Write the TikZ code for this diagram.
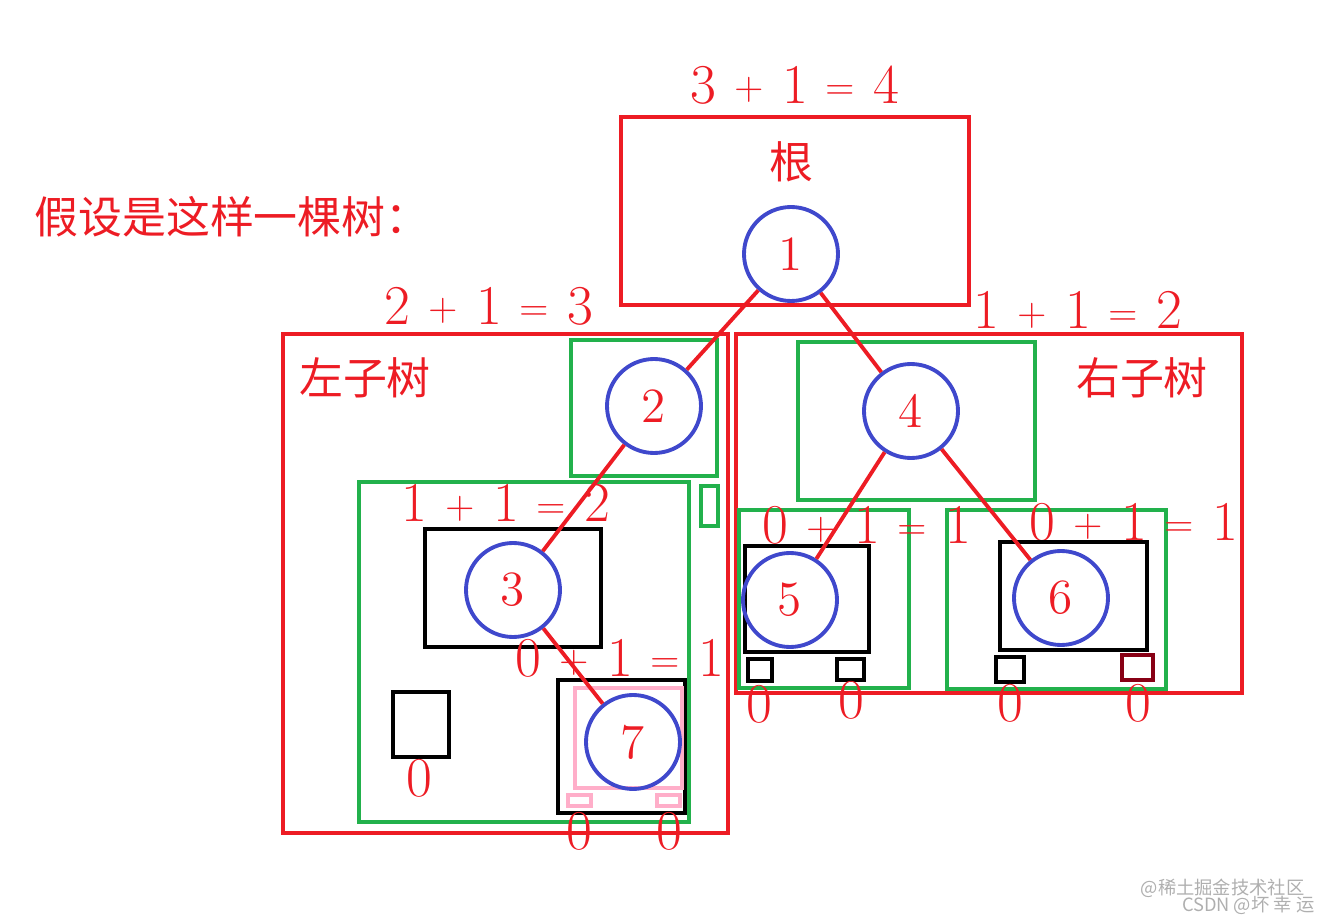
\documentclass[tikz,border=0pt]{standalone}
\usepackage{fontspec}
\usepackage{xcolor}
\newfontfamily\cjk{Noto Sans CJK SC}
\definecolor{pred}{RGB}{237,28,36}
\definecolor{pgreen}{RGB}{34,177,76}
\definecolor{pblue}{RGB}{63,72,204}
\definecolor{ppink}{RGB}{255,174,201}
\definecolor{pdark}{RGB}{136,0,21}
\definecolor{wmark}{RGB}{175,175,175}
\newcommand{\opsym}[1]{\makebox[13pt]{\fontsize{11}{11}\selectfont\raisebox{1pt}{#1}}}
\newcommand{\sumlbl}[3]{\makebox[13pt]{#1}\opsym{+}\makebox[13pt]{#2}\opsym{=}\makebox[13pt]{#3}}

\begin{document}
\begin{tikzpicture}[
  redbox/.style={draw=pred, line width=1.2pt},
  greenbox/.style={draw=pgreen, line width=1.2pt},
  blackbox/.style={draw=black, line width=1.2pt},
  pinkbox/.style={draw=ppink, line width=1.1pt},
  vert/.style={circle, draw=pblue, line width=1.1pt, minimum size=0.94cm, inner sep=0pt, text=pred, font=\fontsize{14}{14}\selectfont},
  link/.style={draw=pred, line width=1.1pt},
  lbl/.style={text=pred, inner sep=0pt, font=\fontsize{16}{16}\selectfont},
  cjklbl/.style={text=pred, inner sep=0pt, font=\cjk\fontsize{12.5}{12.5}\selectfont}]
\useasboundingbox (0,0) rectangle (13.3,-9.24);
% root part
\draw [redbox] (6.21,-1.17) rectangle (9.69,-3.05);
\node [lbl] (s1) at (7.95,-0.85) {\sumlbl{3}{1}{4}};
\node [cjklbl] (root) at (7.91,-1.62) {根};
\node [cjklbl] (title) at (2.32,-2.17) {假设是这样一棵树：};
% left subtree
\draw [redbox] (2.83,-3.34) rectangle (7.28,-8.33);
\node [cjklbl] (left) at (3.65,-3.78) {左子树};
\node [lbl] (s2) at (4.89,-3.06) {\sumlbl{2}{1}{3}};
\draw [greenbox] (5.71,-3.40) rectangle (7.17,-4.76);
\draw [greenbox] (7.01,-4.86) rectangle (7.18,-5.26);
\draw [greenbox] (3.59,-4.82) rectangle (6.89,-8.22);
\node [lbl] (s3) at (5.06,-5.03) {\sumlbl{1}{1}{2}};
\draw [blackbox] (4.25,-5.29) rectangle (6.01,-6.47);
\node [lbl] (s7) at (6.20,-6.58) {\sumlbl{0}{1}{1}};
\draw [blackbox] (3.93,-6.92) rectangle (4.49,-7.57);
\node [lbl] (z1) at (4.19,-7.78) {0};
\draw [blackbox] (5.58,-6.80) rectangle (6.85,-8.13);
\draw [pinkbox] (5.75,-6.88) rectangle (6.82,-7.88);
\draw [pinkbox] (5.68,-7.95) rectangle (5.91,-8.06);
\draw [pinkbox] (6.57,-7.95) rectangle (6.80,-8.06);
\node [lbl] (z2) at (5.79,-8.31) {0};
\node [lbl] (z3) at (6.69,-8.31) {0};
% right subtree
\draw [redbox] (7.36,-3.34) rectangle (12.42,-6.93);
\node [cjklbl] (right) at (11.42,-3.78) {右子树};
\node [lbl] (s4) at (10.78,-3.10) {\sumlbl{1}{1}{2}};
\draw [greenbox] (7.98,-3.42) rectangle (10.35,-5.00);
\draw [greenbox] (7.39,-5.10) rectangle (9.09,-6.88);
\draw [greenbox] (9.47,-5.10) rectangle (11.66,-6.89);
\node [lbl] (s5) at (8.67,-5.25) {\sumlbl{0}{1}{1}};
\node [lbl] (s6) at (11.34,-5.22) {\sumlbl{0}{1}{1}};
\draw [blackbox] (7.45,-5.46) rectangle (8.69,-6.52);
\draw [blackbox] (7.48,-6.59) rectangle (7.72,-6.81);
\draw [blackbox] (8.37,-6.59) rectangle (8.64,-6.80);
\draw [blackbox] (10.00,-5.42) rectangle (11.47,-6.50);
\draw [blackbox] (9.96,-6.57) rectangle (10.24,-6.82);
\draw [draw=pdark, line width=1.2pt] (11.22,-6.55) rectangle (11.53,-6.80);
\node [lbl] (z4) at (7.59,-7.04) {0};
\node [lbl] (z5) at (8.51,-7.00) {0};
\node [lbl] (z6) at (10.10,-7.03) {0};
\node [lbl] (z7) at (11.38,-7.03) {0};
% nodes
\node [vert] (n1) at (7.91,-2.54) {1};
\node [vert] (n2) at (6.54,-4.06) {2};
\node [vert] (n3) at (5.13,-5.90) {3};
\node [vert] (n4) at (9.11,-4.11) {4};
\node [vert] (n5) at (7.90,-6.00) {5};
\node [vert] (n6) at (10.61,-5.98) {6};
\node [vert] (n7) at (6.33,-7.42) {7};
\draw [link] (n1) -- (n2);
\draw [link] (n1) -- (n4);
\draw [link] (n2) -- (n3);
\draw [link] (n3) -- (n7);
\draw [link] (n4) -- (n5);
\draw [link] (n4) -- (n6);
% watermark
\node [text=wmark, inner sep=0pt, font=\cjk\fontsize{5.2}{5.2}\selectfont, anchor=east] (wm1) at (13.05,-8.88) {@稀土掘金技术社区};
\node [text=wmark, inner sep=0pt, font=\cjk\fontsize{5.2}{5.2}\selectfont, anchor=east] (wm2) at (13.15,-9.05) {CSDN @坏 幸 运};
\end{tikzpicture}
\end{document}
